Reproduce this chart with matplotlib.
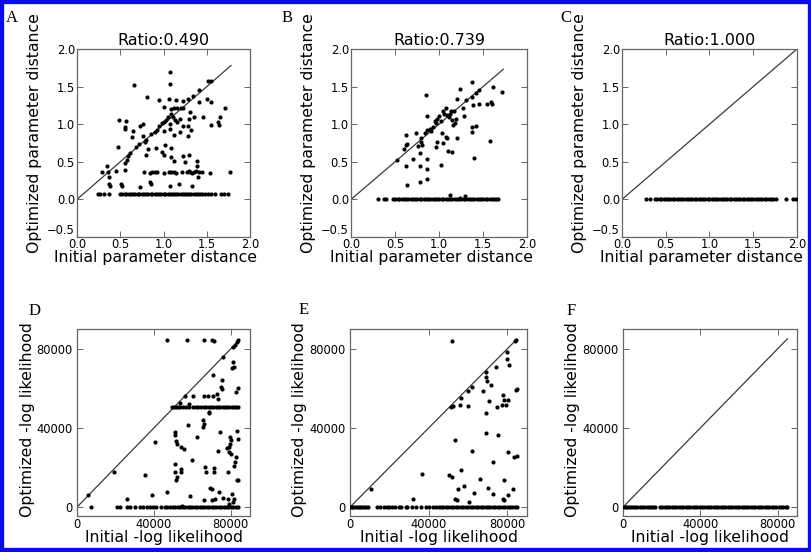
import matplotlib
matplotlib.use("Agg")
import matplotlib.pyplot as plt
from matplotlib.patches import Rectangle

# ---------------- data ----------------
titles_top = ["Ratio:0.490", "Ratio:0.739", "Ratio:1.000"]
panel_letters = ["A", "B", "C", "D", "E", "F"]
top_xticks = [0.0, 0.5, 1.0, 1.5, 2.0]
top_yticks = [-0.5, 0.0, 0.5, 1.0, 1.5, 2.0]
bot_ticks = [0, 40000, 80000]

# Panel A: scattered points
A_x = [1.07, 1.07, 0.66, 1.545, 1.52, 1.41, 0.81, 0.95, 1.00, 1.06, 1.14, 1.28, 1.34, 1.50, 1.545,
       1.71, 1.41, 1.23, 1.09, 1.12, 1.16, 1.20, 1.23, 1.31, 1.35, 1.46, 1.65, 1.63, 1.64, 1.545,
       0.48, 0.57, 0.56, 0.55, 0.73, 0.76, 0.65, 0.64, 0.76, 0.80, 0.79, 0.86, 0.90, 0.95, 0.98,
       1.00, 1.03, 1.05, 1.09, 1.11, 1.13, 1.16, 1.19, 1.07, 0.92, 1.01, 1.07, 1.12, 1.23, 1.28,
       1.30, 1.32, 1.28, 1.19, 0.82, 0.91, 0.98, 1.02, 1.09, 1.00, 0.80, 0.59, 0.575, 0.55, 0.61,
       0.47, 1.09, 1.22, 1.29, 1.25, 1.39, 1.39, 1.12, 0.29, 0.36, 0.35, 0.45, 0.56, 0.37, 0.68,
       0.72, 0.37, 0.38, 0.51, 0.52, 0.84, 0.85, 0.73, 1.07, 1.18, 1.33, 1.40,
       0.78, 0.84, 0.87, 0.90, 0.93, 1.00, 1.06, 1.09, 1.12, 1.15, 1.21, 1.27, 1.29, 1.31, 1.33,
       1.35, 1.38, 1.41, 1.44, 1.54, 1.77]
A_y = [1.70, 1.53, 1.52, 1.58, 1.57, 1.46, 1.36, 1.32, 1.23, 1.33, 1.32, 1.33, 1.38, 1.33, 1.29,
       1.22, 1.29, 1.31, 1.20, 1.22, 1.22, 1.22, 1.22, 1.16, 1.09, 1.10, 1.10, 1.03, 0.99, 0.99,
       1.06, 1.04, 0.96, 0.94, 0.98, 1.00, 0.91, 0.83, 0.84, 0.79, 0.76, 0.87, 0.89, 0.97, 1.01,
       1.03, 1.06, 1.10, 1.13, 1.09, 1.06, 1.03, 1.07, 1.00, 0.92, 0.91, 0.93, 0.85, 0.97, 0.98,
       1.07, 0.92, 0.84, 0.89, 0.67, 0.68, 0.63, 0.73, 0.69, 0.59, 0.59, 0.58, 0.52, 0.48, 0.62,
       0.70, 0.56, 0.58, 0.59, 0.50, 0.51, 0.44, 0.51, 0.36, 0.36, 0.45, 0.38, 0.39, 0.30, 0.70,
       0.74, 0.20, 0.18, 0.21, 0.18, 0.23, 0.20, 0.16, 0.18, 0.21, 0.18, 0.30,
       0.36, 0.35, 0.37, 0.36, 0.36, 0.35, 0.37, 0.36, 0.36, 0.35, 0.37, 0.36, 0.38, 0.36, 0.35,
       0.37, 0.38, 0.36, 0.37, 0.35, 0.36]
# Panel A: dense row of points at y = 0.07
A_band_y = 0.07
A_band_x = [0.24, 0.27, 0.31, 0.37, 0.50, 0.52, 0.55, 0.57, 0.60, 0.62, 0.65, 0.67, 0.70, 0.72,
            0.75, 0.77, 0.80, 0.82, 0.85, 0.87, 0.90, 0.92, 0.95, 0.97, 1.00, 1.02, 1.05, 1.07,
            1.10, 1.12, 1.15, 1.17, 1.20, 1.22, 1.25, 1.27, 1.30, 1.32, 1.35, 1.37, 1.40, 1.42,
            1.45, 1.48, 1.51, 1.55, 1.60, 1.66, 1.70, 1.74]

# Panel B
B_x = [1.37, 1.235, 1.61, 1.72, 0.85, 1.46, 1.42, 1.37, 1.31, 1.20, 1.39, 1.45, 1.54, 1.59, 1.60,
       1.27, 1.28, 1.085, 1.04, 1.06, 1.09, 1.12, 1.11, 1.14, 1.17, 1.00, 0.98, 1.02, 0.97, 0.95,
       1.15, 1.19, 1.18, 1.16, 0.865, 0.865, 0.91, 0.84, 0.74, 0.63, 0.64, 0.62, 0.80, 0.79, 0.81,
       0.76, 0.98, 0.97, 1.03, 1.085, 1.04, 1.09, 1.20, 1.37, 1.38, 1.42, 1.58, 1.40, 1.10, 1.15,
       1.02, 0.71, 0.78, 0.865, 0.63, 0.78, 0.865, 0.52, 0.605, 0.86, 0.78, 0.64, 1.13, 1.29, 1.235,
       0.90, 0.93]
B_y = [1.56, 1.47, 1.49, 1.43, 1.39, 1.46, 1.42, 1.36, 1.32, 1.33, 1.25, 1.27, 1.27, 1.30, 1.27,
       1.21, 1.11, 1.22, 1.17, 1.14, 1.12, 1.14, 1.10, 1.17, 1.18, 1.11, 1.07, 1.04, 1.01, 1.04,
       1.06, 1.07, 1.02, 0.99, 1.11, 0.92, 0.91, 0.88, 0.88, 0.85, 0.74, 0.72, 0.82, 0.76, 0.72,
       0.71, 0.76, 0.70, 0.88, 0.83, 0.75, 0.82, 0.82, 0.96, 0.89, 0.98, 0.78, 0.55, 0.64, 0.63,
       0.46, 0.54, 0.62, 0.54, 0.45, 0.44, 0.40, 0.53, 0.67, 0.27, 0.23, 0.19, 0.06, 0.04, 0.02,
       0.93, 0.96]
B_band_y = 0.0
B_band_x = [0.31, 0.37, 0.40, 0.48, 0.50, 0.53, 0.55, 0.58, 0.60, 0.63, 0.65, 0.68, 0.70, 0.73,
            0.75, 0.78, 0.80, 0.83, 0.85, 0.88, 0.90, 0.93, 0.95, 0.98, 1.00, 1.03, 1.05, 1.08,
            1.10, 1.13, 1.15, 1.18, 1.20, 1.23, 1.25, 1.28, 1.30, 1.33, 1.35, 1.38, 1.40, 1.43,
            1.45, 1.48, 1.50, 1.53, 1.55, 1.58, 1.60, 1.63, 1.65, 1.67]

# Panel C
C_band_y = 0.0
C_band_x = [0.27, 0.32, 0.38, 0.40, 0.43, 0.45, 0.48, 0.50, 0.53, 0.55, 0.58, 0.60, 0.63, 0.65,
            0.68, 0.70, 0.73, 0.75, 0.78, 0.80, 0.83, 0.85, 0.88, 0.90, 0.93, 0.95, 0.98, 1.00,
            1.03, 1.05, 1.08, 1.10, 1.13, 1.15, 1.18, 1.20, 1.23, 1.25, 1.28, 1.30, 1.33, 1.35,
            1.38, 1.40, 1.43, 1.45, 1.48, 1.50, 1.53, 1.55, 1.58, 1.60, 1.63, 1.65, 1.68, 1.70,
            1.73, 1.76, 1.88, 1.95, 1.99]

# Panel D
D_x = [46700, 57100, 66300, 70100, 71400, 83000, 83900, 82200, 81400, 76100, 81300, 81800, 80400,
       70900, 75300, 74700, 75600, 83600, 82500, 56200, 60600, 66300, 68400, 70600, 72700, 73600,
       53700, 58400, 68900, 68900, 65700, 66200, 65400, 51000, 51000, 51400, 58000, 74600, 83000,
       83900, 79600, 79900, 79400, 79200, 40700, 51900, 54100, 55900, 62300, 73200, 77900, 79000,
       80100, 60000, 82500, 82200, 51000, 51000, 51900, 51400, 54100, 54100, 66600, 67000, 71400,
       71400, 78700, 81800, 19500, 35500, 83000, 83900, 58800, 47000, 38900, 25900, 5700, 7400,
       69200, 70400, 73800, 76100, 78400, 80400, 81300, 79000, 81600, 70100, 71800, 66000, 54500]
D_y = [84200, 84200, 84300, 84500, 84000, 83300, 84200, 81700, 80900, 75800, 73100, 70700, 70200,
       66900, 64000, 60600, 59800, 60100, 58100, 55900, 56200, 55900, 56000, 55900, 57300, 54800,
       52800, 51900, 48300, 47500, 43800, 42100, 40400, 38200, 36200, 33200, 41300, 38200, 38700,
       34500, 35400, 33700, 32000, 30300, 32800, 32000, 30300, 29500, 35400, 28600, 29800, 27800,
       26900, 23600, 25300, 22700, 21900, 17700, 15200, 13500, 19400, 17700, 20200, 17700, 17700,
       20000, 17700, 21000, 17700, 16000, 13800, 13800, 5600, 7600, 6200, 3900, 5900, 0,
       9600, 8900, 7600, 4600, 3900, 6700, 2500, 1700, 4200, 3400, 4200, 3400, 800]
D_band50_y = 50500
D_band50_x = [49300, 50500, 51500, 52800, 53800, 55000, 56500, 58500, 60200, 61800, 63000, 64500,
              66000, 67000, 68500, 69800, 71000, 72300, 73500, 74600, 75800, 77000, 78200, 79300,
              80500, 81600, 82800, 83800]
D_band0_y = 0
D_band0_x = [20800, 22500, 25900, 27600, 30200, 32800, 34500, 36200, 37900, 39600, 41300, 43900,
             45600, 47000, 48500, 50000, 51200, 52500, 53800, 55000, 56300, 57500, 58800, 60000,
             61300, 62500, 63800, 65000, 66300, 67500, 68800, 70000, 71300, 72500, 73800, 75000,
             76300, 77500, 78800, 80000, 81300, 82500, 83700]

# Panel E
E_x = [51800, 84500, 84000, 79700, 79700, 80600, 74000, 69400, 69400, 69900, 71500, 84800, 84200,
       78000, 67400, 60000, 62000, 56600, 70800, 78400, 77100, 74600, 79400, 80200, 52300, 51400,
       56000, 60000, 69100, 68900, 75400, 53300, 62000, 72800, 80200, 83500, 84800, 36500, 50200,
       51900, 56600, 54800, 57900, 66300, 78300, 70300, 72500, 62900, 82800, 80200, 78000, 78500,
       53500, 54300, 60300, 32200, 10600]
E_y = [83700, 84500, 84000, 78600, 74900, 71900, 70700, 68200, 65700, 63500, 61500, 59800, 59300,
       56400, 58900, 58900, 60600, 55100, 53400, 53900, 51400, 50500, 51400, 53900, 51000, 50500,
       51400, 51000, 47700, 37500, 36500, 34000, 28100, 22700, 27800, 25300, 25600, 16700, 16000,
       15200, 18500, 9300, 10900, 14300, 13500, 9800, 6700, 7100, 9300, 5900, 4200, 3400,
       4200, 3400, 2500, 4200, 9300]
E_band_y = 0
E_band_x = [0, 800, 1700, 2600, 3500, 4400, 5300, 6200, 7100, 8000, 9000, 13700, 15400, 17100,
            18800, 19700, 21400, 23100, 24800, 25700, 28300, 29100, 31700, 33400, 36000, 38600,
            40300, 42000, 43700, 45400, 46300, 47100, 48800, 50000, 51400, 52600, 53900, 55100,
            56400, 57600, 58900, 60100, 61400, 62600, 63900, 65100, 66400, 67600, 68900, 70100,
            71400, 72600, 73900, 75100, 76400, 77600, 78900, 80100, 81400, 82600, 83900, 85000]

# Panel F
F_band_y = 0
F_band_x = [300, 1300, 2300, 3300, 4300, 5300, 6300, 7200, 8900, 10000, 11100, 12200, 13300,
            14400, 15500, 16700, 19200, 20400, 21600, 22800, 24000, 25200, 26400, 27600, 28800,
            30000, 31200, 32400, 33600, 34800, 36000, 37200, 38400, 39600, 40800, 42000, 43300,
            44500, 45700, 46900, 48100, 49300, 50500, 51700, 52900, 54100, 55300, 56500, 57700,
            58900, 60100, 61300, 62500, 63700, 64900, 66100, 67300, 68500, 69700, 70900, 72100,
            73300, 74500, 75700, 76900, 78100, 79300, 80500, 81700, 82900, 84100, 85000]

# y = x reference line end points
line_ends = [1.78, 1.73, 2.0, 84500, 84800, 85000]

# ---------------- drawing ----------------
W, H = 812, 552
fig = plt.figure(figsize=(W / 100, H / 100), dpi=100)
fig.patch.set_facecolor("white")

def add_ax(l, t, r, b):
    return fig.add_axes([l / W, 1 - b / H, (r - l) / W, (b - t) / H])

boxes = [(77, 49, 250, 237), (351, 49, 527, 237), (622, 49, 797, 237),
         (77, 329, 250, 516), (350, 329, 527, 516), (623, 329, 797, 516)]
letter_pos = [(12, 18), (287, 18), (566, 18), (35, 311), (304, 310), (571, 311)]

dot_kw = dict(s=9, c="black", linewidths=0, zorder=3)
line_kw = dict(color="#3a3a3a", lw=0.9, zorder=2)
spine_col = "#666666"

scatter_sets = [
    [(A_x, A_y), (A_band_x, [A_band_y] * len(A_band_x))],
    [(B_x, B_y), (B_band_x, [B_band_y] * len(B_band_x))],
    [(C_band_x, [C_band_y] * len(C_band_x))],
    [(D_x, D_y), (D_band50_x, [D_band50_y] * len(D_band50_x)), (D_band0_x, [D_band0_y] * len(D_band0_x))],
    [(E_x, E_y), (E_band_x, [E_band_y] * len(E_band_x))],
    [(F_band_x, [F_band_y] * len(F_band_x))],
]

for i, box in enumerate(boxes):
    ax = add_ax(*box)
    top = i < 3
    for xs, ys in scatter_sets[i]:
        ax.scatter(xs, ys, **dot_kw)
    m = line_ends[i]
    ax.plot([0, m], [0, m], **line_kw)
    for sp in ax.spines.values():
        sp.set_color(spine_col)
        sp.set_linewidth(0.9)
    ax.tick_params(direction="in", top=True, right=True, length=4, width=0.7,
                   color=spine_col, labelsize=8.3)
    if top:
        ax.set_xlim(0, 2.0)
        ax.set_ylim(-0.5, 2.0)
        ax.set_xticks(top_xticks)
        ax.set_yticks(top_yticks)
        ax.set_xticklabels([f"{v:.1f}" for v in top_xticks])
        ax.set_yticklabels([f"{v:.1f}".replace("-", "\u2212") for v in top_yticks])
        ax.tick_params(axis="x", pad=1)
        ax.tick_params(axis="y", pad=1.5)
        # keep the lowest y label clear of the "0.0" x label
        ax.get_yticklabels()[0].set_verticalalignment("bottom")
        ax.set_title(titles_top[i], fontsize=11.5, pad=3)
        ax.set_xlabel("Initial parameter distance", fontsize=11.3)
        ax.set_ylabel("Optimized parameter distance", fontsize=11.3)
        ax.xaxis.set_label_coords(0.455, -0.068)
        ax.yaxis.set_label_coords(-0.2, 0.555)
    else:
        ax.set_xlim(0, 90000)
        ax.set_ylim(-4500, 90000)
        ax.set_xticks(bot_ticks)
        ax.set_yticks(bot_ticks)
        ax.set_xticklabels([str(v) for v in bot_ticks])
        ax.set_yticklabels([str(v) for v in bot_ticks])
        ax.tick_params(axis="x", pad=1.5)
        ax.tick_params(axis="y", pad=3)
        ax.set_xlabel("Initial -log likelihood", fontsize=11.3)
        ax.set_ylabel("Optimized -log likelihood", fontsize=11.3)
        ax.xaxis.set_label_coords(0.5, -0.076)
        ax.yaxis.set_label_coords(-0.245, 0.515)
    lx, ly = letter_pos[i]
    fig.text(lx / W, 1 - ly / H, panel_letters[i], fontsize=12,
             family=["Liberation Serif", "DejaVu Serif"], ha="center", va="center")

# blue frame around the whole figure
fig.add_artist(Rectangle((0, 0), 1, 1, transform=fig.transFigure, fill=False,
                         edgecolor="#0b0bea", linewidth=6, zorder=10))

fig.savefig("out.png", dpi=100)
